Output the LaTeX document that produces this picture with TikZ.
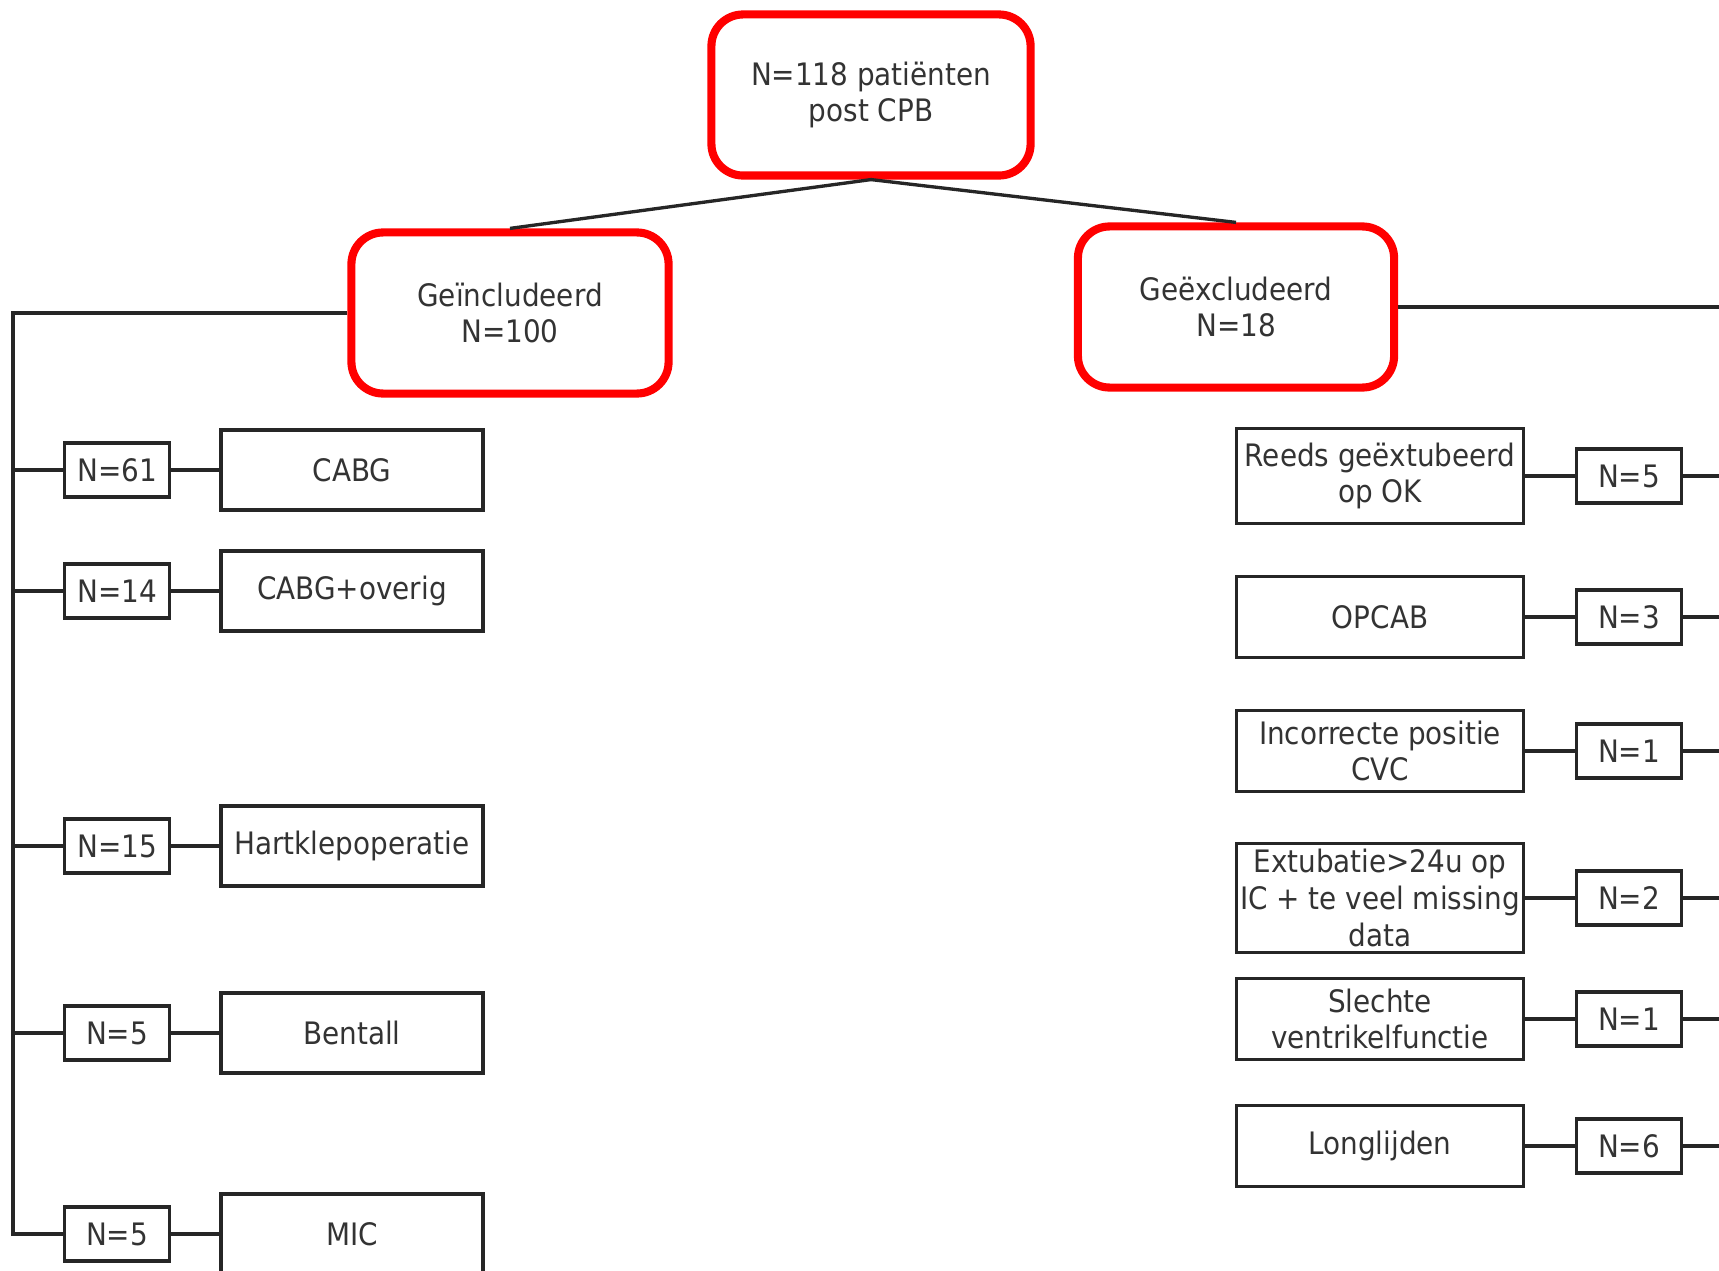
\documentclass[tikz,border=0pt]{standalone}
\usepackage{fontspec}
\setmainfont{DejaVu Sans Condensed}
\usepackage{tikz}

\begin{document}
\begin{tikzpicture}[x=0.01cm,y=-0.01cm,line width=0.95pt,
    every node/.style={font=\fontsize{8.8}{10.4}\selectfont, text=black!80, align=center, inner sep=0pt},
    groep/.style={draw=red, line width=2.3pt, rounded corners=9pt, minimum height=1.61cm},
    soort/.style={draw=black!85, minimum width=2.62cm, minimum height=0.8cm},
    reden/.style={draw=black!85, minimum width=2.87cm, minimum height=0.81cm},
    aantal/.style={draw=black!85, minimum width=1.05cm, minimum height=0.54cm}]
                        \clip (0,0) rectangle (1719,1270);
                        % Nodes
                        \node[groep, minimum width=3.19cm] (totaal) at (871,95) {N=118 patiënten\\post CPB};
                        \node[groep, minimum width=3.17cm] (incl) at (510,313) {Geïncludeerd\\N=100};
                        \node[groep, minimum width=3.16cm] (excl) at (1236,307) {Geëxcludeerd\\N=18};

                        \node[aantal] (n61) at (117,470) {N=61};
                        \node[soort] (cabg) at (352,470) {CABG};
                        \node[aantal] (n14) at (117,591) {N=14};
                        \node[soort] (overig) at (352,591) {CABG+overig};
                        \node[aantal] (n15) at (117,846) {N=15};
                        \node[soort] (klep) at (352,846) {Hartklepoperatie};
                        \node[aantal] (n5a) at (117,1033) {N=5};
                        \node[soort] (bentall) at (352,1033) {Bentall};
                        \node[aantal] (n5b) at (117,1234) {N=5};
                        \node[soort] (mic) at (352,1234) {MIC};

                        \node[reden, minimum height=0.95cm] (reeds) at (1380,476) {Reeds geëxtubeerd\\op OK};
                        \node[aantal] (n5c) at (1629,476) {N=5};
                        \node[reden] (opcab) at (1380,617) {OPCAB};
                        \node[aantal] (n3) at (1629,617) {N=3};
                        \node[reden] (cvc) at (1380,751) {Incorrecte positie\\CVC};
                        \node[aantal] (n1a) at (1629,751) {N=1};
                        \node[reden, minimum height=1.09cm] (extub) at (1380,898) {Extubatie>24u op\\IC + te veel missing\\data};
                        \node[aantal] (n2) at (1629,898) {N=2};
                        \node[reden] (slecht) at (1380,1019) {Slechte\\ventrikelfunctie};
                        \node[aantal] (n1b) at (1629,1019) {N=1};
                        \node[reden] (long) at (1380,1146) {Longlijden};
                        \node[aantal] (n6) at (1629,1146) {N=6};

                        \coordinate (stam) at (13,1234);
                        \coordinate (rstam) at (1760,307);

                        % Edges
                        \draw[-, black!85] (totaal.south) -- (incl.north);
                        \draw[-, black!85] (totaal.south) -- (excl.north);

                        \draw[-, black!85] (incl.west) -| (stam) -- (n5b);
                        \draw[-, black!85] (n61) -- (n61 -| stam);
                        \draw[-, black!85] (n14) -- (n14 -| stam);
                        \draw[-, black!85] (n15) -- (n15 -| stam);
                        \draw[-, black!85] (n5a) -- (n5a -| stam);
                        \draw[-, black!85] (n61) -- (cabg);
                        \draw[-, black!85] (n14) -- (overig);
                        \draw[-, black!85] (n15) -- (klep);
                        \draw[-, black!85] (n5a) -- (bentall);
                        \draw[-, black!85] (n5b) -- (mic);

                        \draw[-, black!85] (excl) -- (rstam);
                        \draw[-, black!85] (reeds) -- (n5c);
                        \draw[-, black!85] (opcab) -- (n3);
                        \draw[-, black!85] (cvc) -- (n1a);
                        \draw[-, black!85] (extub) -- (n2);
                        \draw[-, black!85] (slecht) -- (n1b);
                        \draw[-, black!85] (long) -- (n6);
                        \draw[-, black!85] (n5c) -- (n5c -| rstam);
                        \draw[-, black!85] (n3) -- (n3 -| rstam);
                        \draw[-, black!85] (n1a) -- (n1a -| rstam);
                        \draw[-, black!85] (n2) -- (n2 -| rstam);
                        \draw[-, black!85] (n1b) -- (n1b -| rstam);
                        \draw[-, black!85] (n6) -- (n6 -| rstam);
                    \end{tikzpicture}
\end{document}
